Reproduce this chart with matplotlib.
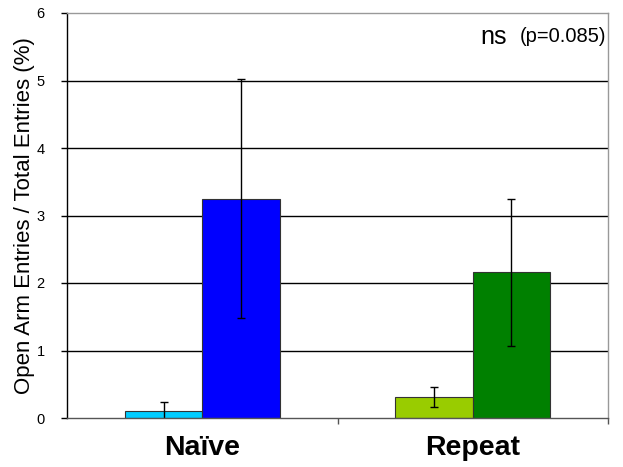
import numpy as np
import matplotlib.pyplot as plt
from matplotlib.ticker import FixedLocator

plt.rcParams['font.family'] = ['Liberation Sans', 'DejaVu Sans']

# Data
groups = ['Naïve', 'Repeat']
first_vals = [0.11, 0.31]
first_err = [0.12, 0.15]
second_vals = [3.25, 2.16]
second_err = [1.77, 1.09]
first_colors = ['#00CCFF', '#99CC00']
second_colors = ['#0000FF', '#008000']
yticks = [0, 1, 2, 3, 4, 5, 6]

fig = plt.figure(figsize=(6.23, 4.67), dpi=100)
ax = fig.add_axes([67 / 623, 1 - 418 / 467, 541 / 623, 405 / 467])

x = np.arange(len(groups))
w = 0.2865

# Gridlines behind bars
for yv in yticks[1:-1]:
    ax.axhline(yv, color='black', linewidth=1.0, zorder=1)

err_kw = dict(ecolor='black', elinewidth=1.0, capsize=3, capthick=1.0)
ax.bar(x - w / 2, first_vals, w, yerr=first_err, color=first_colors,
       edgecolor='#333333', linewidth=0.8, error_kw=err_kw, zorder=2)
ax.bar(x + w / 2, second_vals, w, yerr=second_err, color=second_colors,
       edgecolor='#333333', linewidth=0.8, error_kw=err_kw, zorder=2)

ax.set_xlim(-0.5, 1.5)
ax.set_ylim(0, 6)

# Spines Excel style
ax.spines['left'].set_color('black')
ax.spines['bottom'].set_color('#555555')
ax.spines['top'].set_color('#999999')
ax.spines['right'].set_color('#999999')
for s in ax.spines.values():
    s.set_linewidth(1.0)

ax.set_yticks(yticks)
ax.set_yticklabels([str(v) for v in yticks], fontsize=10.5)
ax.tick_params(axis='y', direction='out', length=4, width=1, pad=12)

ax.set_xticks(x)
ax.set_xticklabels(groups, fontsize=20.5, fontweight='bold')
ax.tick_params(axis='x', which='major', length=0, pad=12)
ax.xaxis.set_minor_locator(FixedLocator([0.5, 1.5]))
ax.tick_params(axis='x', which='minor', direction='out', length=4, width=1, color='#555555')

ax.set_ylabel('Open Arm Entries / Total Entries (%)', fontsize=16, labelpad=1)

# significance note
fig.text(507 / 623, 1 - 37 / 467, 'ns', fontsize=18, ha='right', va='center')
fig.text(606 / 623, 1 - 37 / 467, '(p=0.085)', fontsize=14.5, ha='right', va='center')

fig.savefig('out.png', dpi=100)
